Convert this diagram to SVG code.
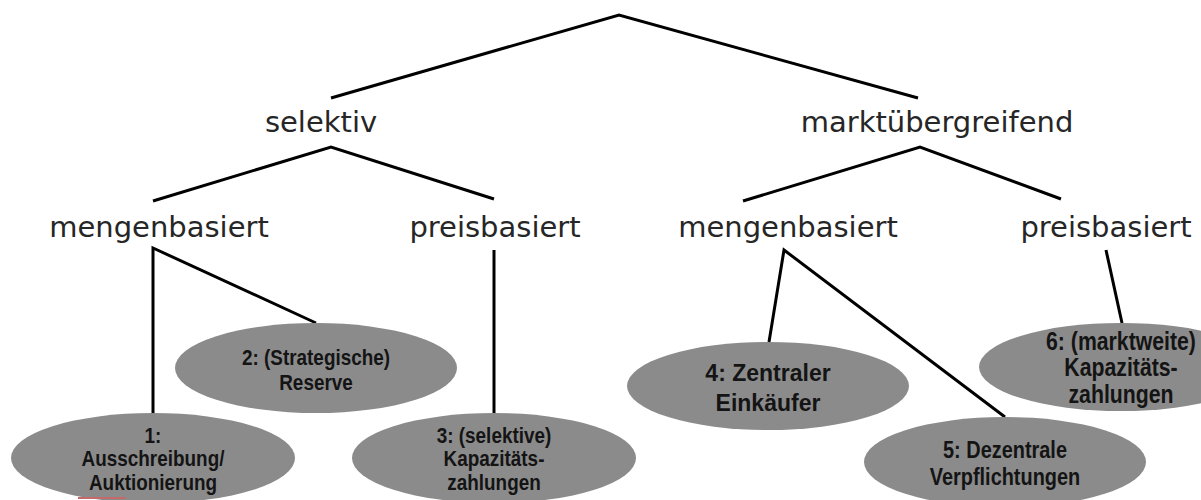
<svg xmlns="http://www.w3.org/2000/svg" width="1201" height="500" viewBox="0 0 1201 500">
<style>
.lbl{font-family:"DejaVu Sans",Verdana,sans-serif;font-size:29px;fill:#262626;text-anchor:middle}
.node ellipse{fill:#8b8b8b}
.nt{font-family:"Liberation Sans",Arial,sans-serif;font-weight:bold;fill:#141414;text-anchor:middle}
.edge{stroke:#000;stroke-width:3;fill:none}
</style>
<rect width="1201" height="500" fill="#fff"/>
<g id="connectors">
<path class="edge" d="M331,98 L619,15 L918,98"/>
<path class="edge" d="M153,201 L331,147 L494,199"/>
<path class="edge" d="M743,201 L920,147 L1061,199"/>
<path class="edge" d="M153,413 L153,248 L316,323"/>
<path class="edge" d="M494,250 L494,413"/>
<path class="edge" d="M769,342 L784,250 L1005,417"/>
<path class="edge" d="M1106,250 L1122,323"/>
</g>
<g id="n-selektiv"><text class="lbl" x="321" y="132">selektiv</text></g>
<g id="n-markt"><text class="lbl" x="937" y="132">marktübergreifend</text></g>
<g id="n-sel-menge"><text class="lbl" x="159" y="237">mengenbasiert</text></g>
<g id="n-sel-preis"><text class="lbl" x="495" y="237">preisbasiert</text></g>
<g id="n-mkt-menge"><text class="lbl" x="788" y="237">mengenbasiert</text></g>
<g id="n-mkt-preis"><text class="lbl" x="1106" y="237">preisbasiert</text></g>
<g id="n1" class="node"><ellipse cx="153" cy="458" rx="142" ry="45"/>
<g transform="translate(153,0) scale(0.86,1)" class="nt" font-size="22"><text x="0" y="443">1:</text><text x="0" y="466">Ausschreibung/</text><text x="0" y="490">Auktionierung</text></g>
<line x1="78" y1="498" x2="126" y2="498" stroke="#c46a6a" stroke-width="2"/></g>
<g id="n2" class="node"><ellipse cx="316" cy="368" rx="141" ry="45"/>
<g transform="translate(316,0) scale(0.86,1)" class="nt" font-size="22"><text x="0" y="365">2: (Strategische)</text><text x="0" y="390">Reserve</text></g></g>
<g id="n3" class="node"><ellipse cx="494" cy="458" rx="142" ry="45"/>
<g transform="translate(494,0) scale(0.86,1)" class="nt" font-size="22"><text x="0" y="443">3: (selektive)</text><text x="0" y="466">Kapazitäts-</text><text x="0" y="490">zahlungen</text></g></g>
<g id="n4" class="node"><ellipse cx="768" cy="386" rx="141" ry="44"/>
<g class="nt" font-size="23"><text x="768" y="381">4: Zentraler</text><text x="768" y="411">Einkäufer</text></g></g>
<g id="n5" class="node"><ellipse cx="1005" cy="462" rx="141" ry="45"/>
<g transform="translate(1005,0) scale(0.83,1)" class="nt" font-size="24"><text x="0" y="458">5: Dezentrale</text><text x="0" y="485">Verpflichtungen</text></g></g>
<g id="n6" class="node"><ellipse cx="1121" cy="367" rx="142" ry="44"/>
<g transform="translate(1121,0) scale(0.85,1)" class="nt" font-size="25"><text x="0" y="350">6: (marktweite)</text><text x="0" y="376">Kapazitäts-</text><text x="0" y="403">zahlungen</text></g></g>
</svg>
